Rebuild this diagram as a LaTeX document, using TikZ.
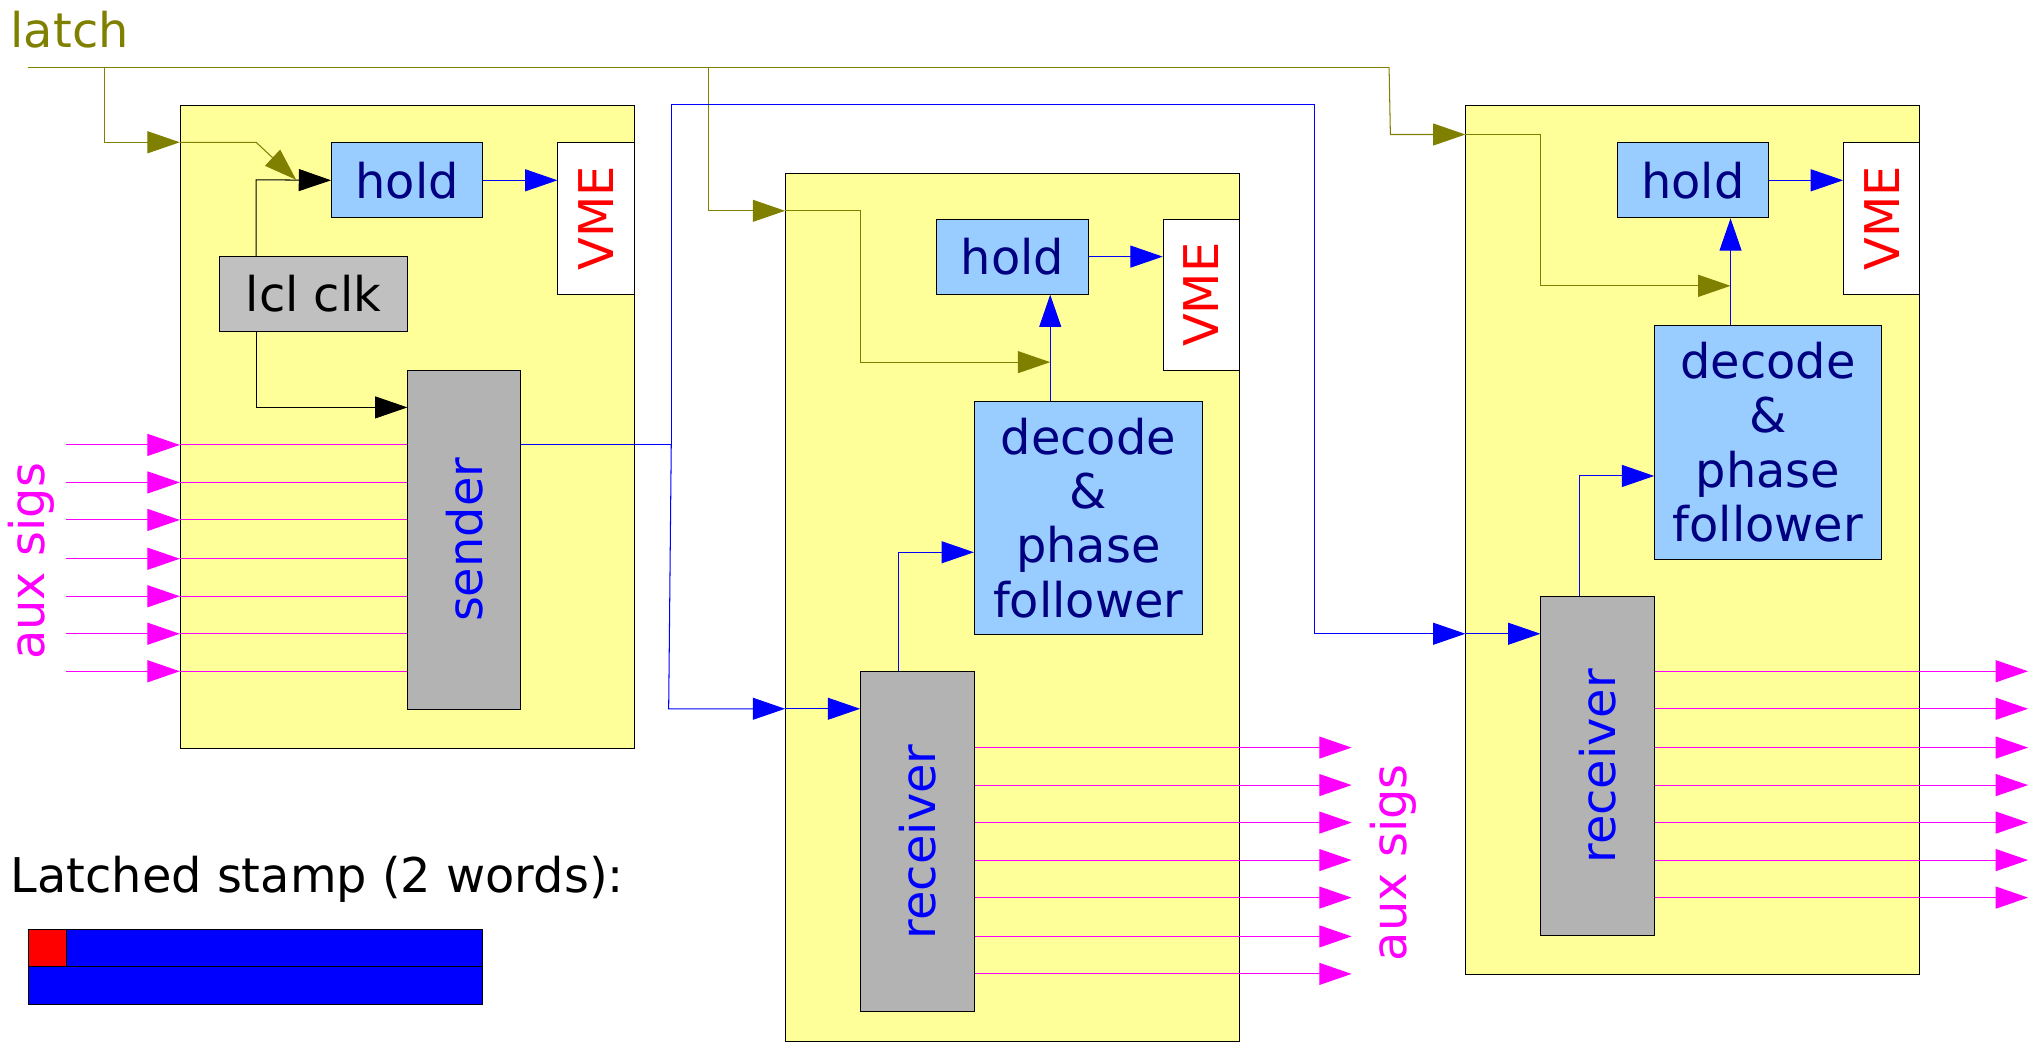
\documentclass[tikz,border=0pt]{standalone}
\usepackage{fontspec}
\setmainfont{DejaVu Sans}
\usetikzlibrary{arrows.meta}
\definecolor{boxyellow}{HTML}{FFFF99}
\definecolor{holdblue}{HTML}{99CCFF}
\definecolor{navytext}{HTML}{000080}
\definecolor{clkgray}{HTML}{C0C0C0}
\definecolor{blkgray}{HTML}{B3B3B3}
\definecolor{olivec}{HTML}{808000}
\definecolor{magc}{HTML}{FF00FF}
\newcommand\bigtxt{\fontsize{37pt}{42pt}\selectfont}
\tikzset{
  blk/.style={draw=black, line width=0.8pt, inner sep=0pt, anchor=north west, font=\bigtxt},
  ybox/.style={blk, fill=boxyellow},
  holdbox/.style={blk, fill=holdblue, text=navytext},
  vmebox/.style={blk, fill=white, text=red},
  clkbox/.style={blk, fill=clkgray, text=black},
  graybox/.style={blk, fill=blkgray, text=blue},
  tip/.style={-{Triangle[length=25pt,width=17pt]}},
  olv/.style={draw=olivec, line width=0.8pt},
  bl/.style={draw=blue, line width=0.8pt},
  blkw/.style={draw=black, line width=0.8pt},
  mg/.style={draw=magc, line width=0.8pt},
  lbl/.style={inner sep=0pt, font=\bigtxt},
}
\begin{document}
\begin{tikzpicture}[x=1pt,y=-1pt]
\fill[white] (0,0) rectangle (1568,806);
\useasboundingbox (0,0) rectangle (1568,806);

% ---- boxes
\node[ybox, minimum width=351pt, minimum height=497pt] (b1) at (139,81) {};
\node[ybox, minimum width=351pt, minimum height=671pt] (b2) at (607,134) {};
\node[ybox, minimum width=351pt, minimum height=672pt] (b3) at (1133,81) {};

\node[holdbox, minimum width=117pt, minimum height=58pt] (h1) at (256,110) {hold};
\node[vmebox, minimum width=59pt, minimum height=117pt] (v1) at (431,110) {\rotatebox{90}{VME}};
\node[clkbox, minimum width=146pt, minimum height=58pt] (clk) at (169,198) {lcl clk};
\node[graybox, minimum width=87pt, minimum height=262pt] (snd) at (315,286) {\rotatebox{90}{sender}};

\node[holdbox, minimum width=117pt, minimum height=58pt] (h2) at (724,169) {hold};
\node[vmebox, minimum width=59pt, minimum height=117pt] (v2) at (899,169) {\rotatebox{90}{VME}};
\node[holdbox, minimum width=176pt, minimum height=180pt, align=center] (d2) at (753,310) {decode\\\&\\phase\\follower};
\node[graybox, minimum width=88pt, minimum height=263pt] (r2) at (665,519) {\rotatebox{90}{receiver}};

\node[holdbox, minimum width=117pt, minimum height=58pt] (h3) at (1250,110) {hold};
\node[vmebox, minimum width=59pt, minimum height=117pt] (v3) at (1425,110) {\rotatebox{90}{VME}};
\node[holdbox, minimum width=175pt, minimum height=181pt, align=center] (d3) at (1279,251) {decode\\\&\\phase\\follower};
\node[graybox, minimum width=88pt, minimum height=262pt] (r3) at (1191,461) {\rotatebox{90}{receiver}};

% ---- latch lines
\coordinate (lA) at (22,52);
\coordinate (lB) at (81,52);
\coordinate (lC) at (548,52);
\coordinate (lD) at (1074,52);
\coordinate (lE) at (1075,104);
\draw[olv] (lA) -- (lD);
\coordinate (in1) at (139,110);
\coordinate (k1) at (198,110);
\coordinate (t1) at (229,139);
\draw[olv,tip] (lB) |- (in1);
\draw[olv,tip] (in1) -- (k1) -- (t1);
\coordinate (in2) at (607,163);
\coordinate (k2) at (665,163);
\coordinate (t2) at (812,280);
\draw[olv,tip] (lC) |- (in2);
\draw[olv,tip] (in2) -- (k2) |- (t2);
\coordinate (in3) at (1133,104);
\coordinate (k3) at (1191,104);
\coordinate (t3) at (1338,221);
\draw[olv,tip] (lD) -- (lE) -- (in3);
\draw[olv,tip] (in3) -- (k3) |- (t3);

% ---- local clock
\coordinate (c1) at (198,139);
\coordinate (c2) at (315,315);
\draw[blkw,tip] (clk.north -| c1) -- (c1) -- (h1.west);
\draw[blkw,tip] (clk.south -| c1) |- (c2);

% ---- hold -> VME, decode -> hold, receiver -> decode
\draw[bl,tip] (h1.east) -- (h1.east -| v1.west);
\draw[bl,tip] (h2.east) -- (h2.east -| v2.west);
\draw[bl,tip] (h3.east) -- (h3.east -| v3.west);
\draw[bl,tip] (d2.north -| t2) -- (h2.south -| t2);
\draw[bl,tip] (d3.north -| t3) -- (h3.south -| t3);
\coordinate (rd2) at (695,427);
\coordinate (rd3) at (1221,368);
\draw[bl,tip] (r2.north -| rd2) -- (rd2) -- (d2.west |- rd2);
\draw[bl,tip] (r3.north -| rd3) -- (rd3) -- (d3.west |- rd3);

% ---- sender output
\coordinate (s1) at (519,344);
\coordinate (s2) at (519,81);
\coordinate (s3) at (1016,81);
\coordinate (s4) at (1016,490);
\coordinate (s5) at (517,548);
\draw[bl] (snd.east |- s1) -- (s1);
\draw[bl,tip] (s1) -- (s2) -- (s3) -- (s4) -- (b3.west |- s4);
\draw[bl,tip] (b3.west |- s4) -- (r3.west |- s4);
\draw[bl,tip] (s1) -- (s5) -- (b2.west |- s5);
\draw[bl,tip] (b2.west |- s5) -- (r2.west |- s5);

% ---- aux signals
\foreach \i/\y in {1/344,2/373,3/402,4/432,5/461,6/490,7/519} {
  \coordinate (ai\i) at (51,\y);
  \draw[mg,tip] (ai\i) -- (b1.west |- ai\i);
  \draw[mg] (b1.west |- ai\i) -- (snd.west |- ai\i);
}
\foreach \i/\y in {1/578,2/607,3/636,4/665,5/694,6/724,7/753} {
  \coordinate (ao\i) at (1045,\y);
  \draw[mg,tip] (r2.east |- ao\i) -- (ao\i);
}
\foreach \i/\y in {1/519,2/548,3/578,4/607,5/636,6/665,7/694} {
  \coordinate (ap\i) at (1568,\y);
  \draw[mg,tip] (r3.east |- ap\i) -- (ap\i);
}

% ---- labels
\node[lbl, anchor=base west, text=olivec] (latchlbl) at (8,37) {latch};
\node[lbl, text=magc, rotate=90] (auxL) at (24,434) {aux sigs};
\node[lbl, text=magc, rotate=90] (auxR) at (1077,667) {aux sigs};
\node[lbl, anchor=base west, text=black] (stamplbl) at (8,690) {Latched stamp (2 words):};

% ---- stamp
\node[blk, fill=blue, minimum width=351pt, minimum height=29pt] (w1) at (22,718) {};
\node[blk, fill=blue, minimum width=351pt, minimum height=29pt] (w2) at (22,747) {};
\node[blk, fill=red, minimum width=29pt, minimum height=29pt] (rb) at (22,718) {};
\end{tikzpicture}
\end{document}
